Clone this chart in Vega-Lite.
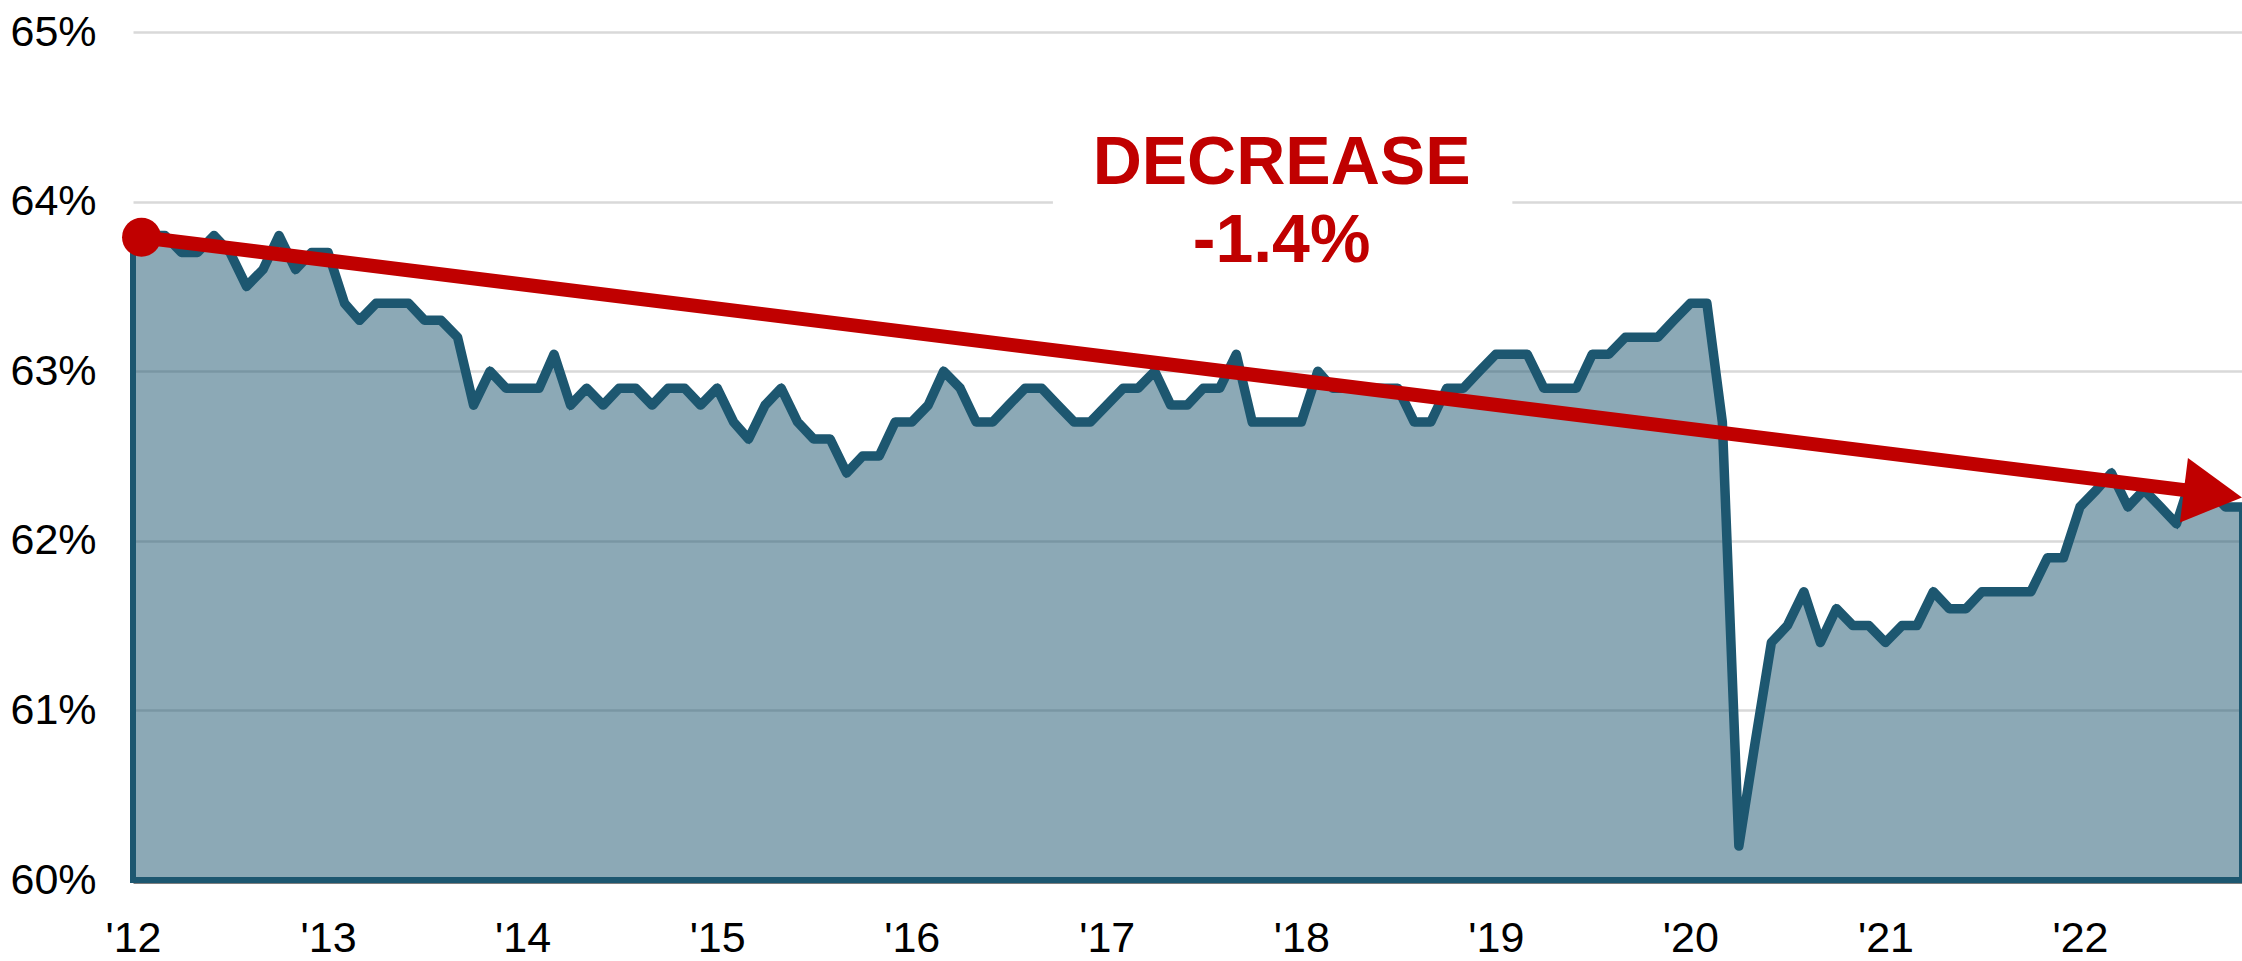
{
  "$schema": "https://vega.github.io/schema/vega-lite/v6.json",
  "width": 2109,
  "height": 848,
  "autosize": {"type": "none"},
  "padding": {"left": 133, "top": 32, "right": 0, "bottom": 81},
  "background": "white",
  "config": {"view": {"stroke": null}},
  "datasets": {
    "lfpr": [
      {"date": "2012/01/01", "value": 63.8}, {"date": "2012/02/01", "value": 63.8}, {"date": "2012/03/01", "value": 63.8}, {"date": "2012/04/01", "value": 63.7}, {"date": "2012/05/01", "value": 63.7}, {"date": "2012/06/01", "value": 63.8}, {"date": "2012/07/01", "value": 63.7}, {"date": "2012/08/01", "value": 63.5}, {"date": "2012/09/01", "value": 63.6}, {"date": "2012/10/01", "value": 63.8}, {"date": "2012/11/01", "value": 63.6}, {"date": "2012/12/01", "value": 63.7},
      {"date": "2013/01/01", "value": 63.7}, {"date": "2013/02/01", "value": 63.4}, {"date": "2013/03/01", "value": 63.3}, {"date": "2013/04/01", "value": 63.4}, {"date": "2013/05/01", "value": 63.4}, {"date": "2013/06/01", "value": 63.4}, {"date": "2013/07/01", "value": 63.3}, {"date": "2013/08/01", "value": 63.3}, {"date": "2013/09/01", "value": 63.2}, {"date": "2013/10/01", "value": 62.8}, {"date": "2013/11/01", "value": 63.0}, {"date": "2013/12/01", "value": 62.9},
      {"date": "2014/01/01", "value": 62.9}, {"date": "2014/02/01", "value": 62.9}, {"date": "2014/03/01", "value": 63.1}, {"date": "2014/04/01", "value": 62.8}, {"date": "2014/05/01", "value": 62.9}, {"date": "2014/06/01", "value": 62.8}, {"date": "2014/07/01", "value": 62.9}, {"date": "2014/08/01", "value": 62.9}, {"date": "2014/09/01", "value": 62.8}, {"date": "2014/10/01", "value": 62.9}, {"date": "2014/11/01", "value": 62.9}, {"date": "2014/12/01", "value": 62.8},
      {"date": "2015/01/01", "value": 62.9}, {"date": "2015/02/01", "value": 62.7}, {"date": "2015/03/01", "value": 62.6}, {"date": "2015/04/01", "value": 62.8}, {"date": "2015/05/01", "value": 62.9}, {"date": "2015/06/01", "value": 62.7}, {"date": "2015/07/01", "value": 62.6}, {"date": "2015/08/01", "value": 62.6}, {"date": "2015/09/01", "value": 62.4}, {"date": "2015/10/01", "value": 62.5}, {"date": "2015/11/01", "value": 62.5}, {"date": "2015/12/01", "value": 62.7},
      {"date": "2016/01/01", "value": 62.7}, {"date": "2016/02/01", "value": 62.8}, {"date": "2016/03/01", "value": 63.0}, {"date": "2016/04/01", "value": 62.9}, {"date": "2016/05/01", "value": 62.7}, {"date": "2016/06/01", "value": 62.7}, {"date": "2016/07/01", "value": 62.8}, {"date": "2016/08/01", "value": 62.9}, {"date": "2016/09/01", "value": 62.9}, {"date": "2016/10/01", "value": 62.8}, {"date": "2016/11/01", "value": 62.7}, {"date": "2016/12/01", "value": 62.7},
      {"date": "2017/01/01", "value": 62.8}, {"date": "2017/02/01", "value": 62.9}, {"date": "2017/03/01", "value": 62.9}, {"date": "2017/04/01", "value": 63.0}, {"date": "2017/05/01", "value": 62.8}, {"date": "2017/06/01", "value": 62.8}, {"date": "2017/07/01", "value": 62.9}, {"date": "2017/08/01", "value": 62.9}, {"date": "2017/09/01", "value": 63.1}, {"date": "2017/10/01", "value": 62.7}, {"date": "2017/11/01", "value": 62.7}, {"date": "2017/12/01", "value": 62.7},
      {"date": "2018/01/01", "value": 62.7}, {"date": "2018/02/01", "value": 63.0}, {"date": "2018/03/01", "value": 62.9}, {"date": "2018/04/01", "value": 62.9}, {"date": "2018/05/01", "value": 62.9}, {"date": "2018/06/01", "value": 62.9}, {"date": "2018/07/01", "value": 62.9}, {"date": "2018/08/01", "value": 62.7}, {"date": "2018/09/01", "value": 62.7}, {"date": "2018/10/01", "value": 62.9}, {"date": "2018/11/01", "value": 62.9}, {"date": "2018/12/01", "value": 63.0},
      {"date": "2019/01/01", "value": 63.1}, {"date": "2019/02/01", "value": 63.1}, {"date": "2019/03/01", "value": 63.1}, {"date": "2019/04/01", "value": 62.9}, {"date": "2019/05/01", "value": 62.9}, {"date": "2019/06/01", "value": 62.9}, {"date": "2019/07/01", "value": 63.1}, {"date": "2019/08/01", "value": 63.1}, {"date": "2019/09/01", "value": 63.2}, {"date": "2019/10/01", "value": 63.2}, {"date": "2019/11/01", "value": 63.2}, {"date": "2019/12/01", "value": 63.3},
      {"date": "2020/01/01", "value": 63.4}, {"date": "2020/02/01", "value": 63.4}, {"date": "2020/03/01", "value": 62.7}, {"date": "2020/04/01", "value": 60.2}, {"date": "2020/05/01", "value": 60.8}, {"date": "2020/06/01", "value": 61.4}, {"date": "2020/07/01", "value": 61.5}, {"date": "2020/08/01", "value": 61.7}, {"date": "2020/09/01", "value": 61.4}, {"date": "2020/10/01", "value": 61.6}, {"date": "2020/11/01", "value": 61.5}, {"date": "2020/12/01", "value": 61.5},
      {"date": "2021/01/01", "value": 61.4}, {"date": "2021/02/01", "value": 61.5}, {"date": "2021/03/01", "value": 61.5}, {"date": "2021/04/01", "value": 61.7}, {"date": "2021/05/01", "value": 61.6}, {"date": "2021/06/01", "value": 61.6}, {"date": "2021/07/01", "value": 61.7}, {"date": "2021/08/01", "value": 61.7}, {"date": "2021/09/01", "value": 61.7}, {"date": "2021/10/01", "value": 61.7}, {"date": "2021/11/01", "value": 61.9}, {"date": "2021/12/01", "value": 61.9},
      {"date": "2022/01/01", "value": 62.2}, {"date": "2022/02/01", "value": 62.3}, {"date": "2022/03/01", "value": 62.4}, {"date": "2022/04/01", "value": 62.2}, {"date": "2022/05/01", "value": 62.3}, {"date": "2022/06/01", "value": 62.2}, {"date": "2022/07/01", "value": 62.1}, {"date": "2022/08/01", "value": 62.4}, {"date": "2022/09/01", "value": 62.3}, {"date": "2022/10/01", "value": 62.2}, {"date": "2022/11/01", "value": 62.2}
    ],
    "arrow": [{"date": "2012/01/17", "value": 63.79, "date2": "2022/09/08", "value2": 62.278}],
    "head": [{"date": "2022/11/01", "value": 62.256}],
    "start": [{"date": "2012/01/17", "value": 63.79}],
    "box": [{"date": "2016/09/22", "date2": "2019/02/01", "value": 64.6, "value2": 63.85}],
    "note": [{"date": "2017/11/25", "value": 64.104, "label": "DECREASE\n-1.4%"}]
  },
  "encoding": {
    "x": {
      "field": "date", "type": "temporal",
      "scale": {"domain": [{"year": 2012, "month": 1, "date": 1}, {"year": 2022, "month": 11, "date": 1}], "nice": false},
      "axis": {
        "title": null, "format": "'%y", "tickCount": {"interval": "year", "step": 1},
        "grid": false, "ticks": false, "tickSize": 0, "domain": true, "domainColor": "#000000", "domainWidth": 2, "offset": 2,
        "labelFont": "Liberation Sans", "labelFontSize": 43, "labelColor": "#000000",
        "labelBaseline": "bottom", "labelPadding": 78, "labelAlign": "center", "labelFlush": false, "labelOverlap": false
      }
    },
    "y": {
      "field": "value", "type": "quantitative",
      "scale": {"domain": [60, 65], "nice": false, "zero": false},
      "axis": {
        "title": null, "values": [60, 61, 62, 63, 64, 65], "labelExpr": "datum.value + '%'",
        "grid": true, "gridColor": "#d9d9d9", "gridWidth": 2.5, "domain": false, "ticks": false, "tickSize": 0,
        "labelFont": "Liberation Sans", "labelFontSize": 43, "labelColor": "#000000",
        "labelAlign": "left", "labelBaseline": "middle", "labelPadding": 123
      }
    }
  },
  "layer": [
    {
      "data": {"name": "lfpr"},
      "mark": {"type": "area", "fill": "#1d5770", "fillOpacity": 0.51, "stroke": "#1d5770", "strokeWidth": 6, "strokeJoin": "miter", "strokeMiterLimit": 2},
      "encoding": {"y2": {"datum": 60}}
    },
    {
      "data": {"name": "lfpr"},
      "mark": {"type": "line", "stroke": "#1d5770", "strokeWidth": 9.5, "strokeCap": "round", "strokeJoin": "round"}
    },
    {
      "data": {"name": "box"},
      "mark": {"type": "rect", "fill": "#ffffff"},
      "encoding": {"x2": {"field": "date2"}, "y2": {"field": "value2"}}
    },
    {
      "data": {"name": "arrow"},
      "mark": {"type": "rule", "stroke": "#c00000", "strokeWidth": 14, "strokeCap": "butt"},
      "encoding": {"x2": {"field": "date2"}, "y2": {"field": "value2"}}
    },
    {
      "data": {"name": "head"},
      "mark": {"type": "point", "shape": "M -1.8 -1 L 0 0 L -1.8 1 Z", "size": 4225, "angle": 7.07, "filled": true, "fill": "#c00000", "stroke": null, "opacity": 1}
    },
    {
      "data": {"name": "start"},
      "mark": {"type": "point", "shape": "circle", "size": 1521, "filled": true, "fill": "#c00000", "stroke": null, "opacity": 1}
    },
    {
      "data": {"name": "note"},
      "mark": {"type": "text", "font": "Liberation Sans", "fontWeight": "bold", "fontSize": 68, "fill": "#c00000", "align": "center", "baseline": "alphabetic", "lineBreak": "\n", "lineHeight": 78},
      "encoding": {"text": {"field": "label"}}
    }
  ]
}
